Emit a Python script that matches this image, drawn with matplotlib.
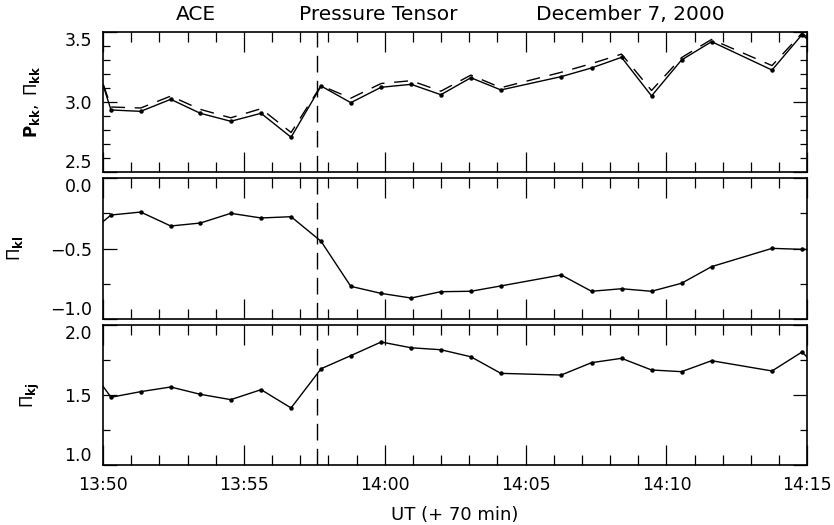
#!/usr/bin/env python3
import matplotlib
matplotlib.use("Agg")
import matplotlib.pyplot as plt
from matplotlib.ticker import MultipleLocator

# minutes after 13:50 UT (first and last samples fall just outside the window)
t_min = [-0.79, 0.284, 1.339, 2.404, 3.455, 4.535, 5.611, 6.676, 7.741, 8.796,
         9.872, 10.937, 11.992, 13.058, 14.123, 16.264, 17.340, 18.406, 19.471,
         20.536, 21.602, 23.747, 24.812, 25.88]

p_kk = [3.62, 2.941, 2.931, 3.017, 2.917, 2.860, 2.917, 2.746, 3.112, 2.993,
        3.103, 3.124, 3.050, 3.171, 3.084, 3.179, 3.241, 3.317, 3.041, 3.298,
        3.429, 3.226, 3.479, 3.30]
pi_kk = [3.60, 2.962, 2.955, 3.040, 2.945, 2.885, 2.950, 2.780, 3.115, 3.025,
         3.130, 3.150, 3.075, 3.190, 3.100, 3.210, 3.272, 3.340, 3.080, 3.315,
         3.445, 3.258, 3.490, 3.32]
pi_kl = [-0.44, -0.261, -0.240, -0.339, -0.318, -0.249, -0.282, -0.273, -0.448,
         -0.768, -0.818, -0.851, -0.806, -0.803, -0.765, -0.687, -0.803, -0.785,
         -0.803, -0.746, -0.628, -0.498, -0.505, -0.51]
pi_kj = [1.78, 1.484, 1.524, 1.557, 1.505, 1.467, 1.538, 1.408, 1.687, 1.780,
         1.877, 1.836, 1.822, 1.772, 1.654, 1.642, 1.730, 1.761, 1.678, 1.666,
         1.744, 1.671, 1.806, 1.59]

event_t = 7.59
xtick_pos = [0, 5, 10, 15, 20, 25]
xtick_lbl = ["13:50", "13:55", "14:00", "14:05", "14:10", "14:15"]

panels = [
    dict(ylim=(2.5, 3.5), yticks=[2.5, 3.0, 3.5], minor=0.1,
         label=r"$\mathbf{P}_{\mathbf{kk}},\ \Pi_{\mathbf{kk}}$", lx=-0.087),
    dict(ylim=(-1.0, 0.0), yticks=[-1.0, -0.5, 0.0], minor=0.25,
         label=r"$\Pi_{\mathbf{kl}}$", lx=-0.111),
    dict(ylim=(1.0, 2.0), yticks=[1.0, 1.5, 2.0], minor=0.25,
         label=r"$\Pi_{\mathbf{kj}}$", lx=-0.087),
]
boxes = [(0.1235, 0.673, 0.8445, 0.2666),
         (0.1235, 0.3924, 0.8445, 0.268),
         (0.1235, 0.1137, 0.8445, 0.2678)]

plt.rcParams["font.family"] = "DejaVu Sans"
plt.rcParams["mathtext.fontset"] = "dejavusans"

fig = plt.figure(figsize=(8.34, 5.25), dpi=100)
axes = [fig.add_axes(b) for b in boxes]

axes[0].plot(t_min, pi_kk, color="k", lw=1.0, dashes=(10, 7))
axes[0].plot(t_min, p_kk, color="k", lw=1.0, marker="o", ms=2.2)
axes[1].plot(t_min, pi_kl, color="k", lw=1.0, marker="o", ms=2.2)
axes[2].plot(t_min, pi_kj, color="k", lw=1.0, marker="o", ms=2.2)

for ax, p in zip(axes, panels):
    ax.axvline(event_t, color="k", lw=1.0, dashes=(12, 6))
    ax.set_xlim(0, 25)
    ax.set_ylim(*p["ylim"])
    ax.set_yticks(p["yticks"])
    ax.set_yticklabels([f"{v:.1f}".replace("-", "\u2212") for v in p["yticks"]])
    ax.yaxis.set_minor_locator(MultipleLocator(p["minor"]))
    ax.set_xticks(xtick_pos)
    ax.xaxis.set_minor_locator(MultipleLocator(1))
    ax.tick_params(axis="both", which="both", direction="in", top=True,
                   right=True, width=0.9, labelsize=12.5)
    ax.tick_params(axis="x", which="major", length=14.5)
    ax.tick_params(axis="x", which="minor", length=7.2)
    ax.tick_params(axis="y", which="major", length=10, pad=8)
    ax.tick_params(axis="y", which="minor", length=5)
    for s in ax.spines.values():
        s.set_linewidth(1.2)
    ax.set_ylabel(p["label"], fontsize=12)
    ax.yaxis.set_label_coords(p["lx"], 0.5)
    ticks = ax.yaxis.get_major_ticks()
    ticks[0].label1.set_va("bottom")
    ticks[-1].label1.set_va("top")
    if ax is not axes[-1]:
        ax.set_xticklabels([])

axes[-1].set_xticklabels(xtick_lbl)
axes[-1].tick_params(axis="x", which="major", pad=8)
axes[-1].set_xlabel("UT (+ 70 min)", fontsize=13, labelpad=8)

ty = 1 - 15 / 525
fig.text(196 / 834, ty, "ACE", ha="center", va="center", fontsize=14.5)
fig.text(378 / 834, ty, "Pressure Tensor", ha="center", va="center", fontsize=14.5)
fig.text(630 / 834, ty, "December 7, 2000", ha="center", va="center", fontsize=14.5)

fig.savefig("out.png", dpi=100)
